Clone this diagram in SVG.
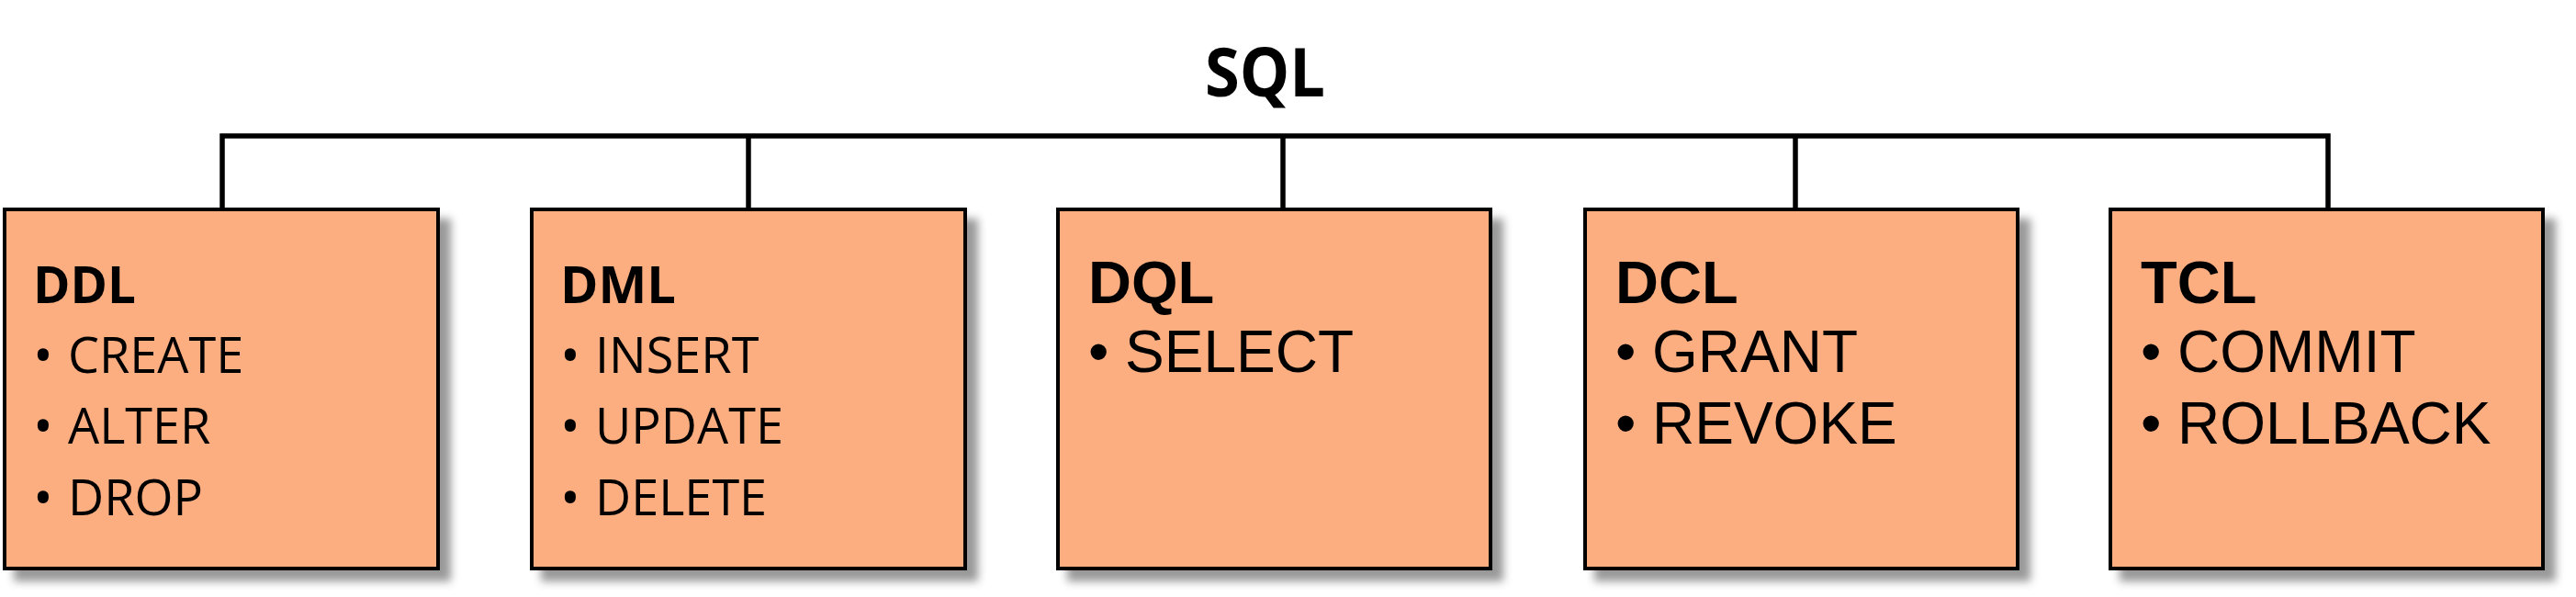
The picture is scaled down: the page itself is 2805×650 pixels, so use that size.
<svg xmlns="http://www.w3.org/2000/svg" width="2805" height="650" viewBox="0 0 2805 650">
  <style>
    .box { fill: #FCAE80; stroke: #000; stroke-width: 4; filter: url(#shadow); }
    .conn { fill: none; stroke: #000; stroke-width: 5.5; stroke-linejoin: miter; }
    .ct { font-family: "Open Sans", "Liberation Sans", sans-serif; font-weight: 700; fill: #000; }
    .ci { font-family: "Open Sans", "Liberation Sans", sans-serif; font-size: 54px; font-weight: 500; fill: #000; }
    .cb { font-size: 58px; }
    .at { font-family: "Liberation Sans", Arial, sans-serif; font-weight: 700; font-size: 65px; fill: #000; }
    .ai { font-family: "Liberation Sans", Arial, sans-serif; font-size: 64px; fill: #000; }
  </style>
  <defs>
    <filter id="shadow" x="-10%" y="-10%" width="130%" height="130%">
      <feDropShadow dx="12" dy="12" stdDeviation="5" flood-color="#000" flood-opacity="0.4"/>
    </filter>
  </defs>
  <rect width="2805" height="650" fill="#fff"/>

  <g id="root">
    <text class="ct" x="1312" y="104.5" font-size="73" textLength="131" lengthAdjust="spacingAndGlyphs">SQL</text>
  </g>

  <g id="connectors">
    <path class="conn" d="M242 228 V148 H2535 V228"/>
    <path class="conn" d="M815 148 V228"/>
    <path class="conn" d="M1397 148 V228"/>
    <path class="conn" d="M1955 148 V228"/>
  </g>

  <g id="ddl">
    <rect class="box" x="5" y="228" width="472" height="391"/>
    <text class="ct" x="36" y="330" font-size="56" textLength="112" lengthAdjust="spacingAndGlyphs">DDL</text>
    <text class="ci" y="406"><tspan class="cb" x="36" y="408">•</tspan><tspan x="74" y="406">CREATE</tspan></text>
    <text class="ci" y="483"><tspan class="cb" x="36" y="485">•</tspan><tspan x="74" y="483">ALTER</tspan></text>
    <text class="ci" y="561"><tspan class="cb" x="36" y="563">•</tspan><tspan x="74" y="561">DROP</tspan></text>
  </g>

  <g id="dml">
    <rect class="box" x="579" y="228" width="472" height="391"/>
    <text class="ct" x="610" y="330" font-size="56" textLength="126" lengthAdjust="spacingAndGlyphs">DML</text>
    <text class="ci" y="406"><tspan class="cb" x="610" y="408">•</tspan><tspan x="648" y="406">INSERT</tspan></text>
    <text class="ci" y="483"><tspan class="cb" x="610" y="485">•</tspan><tspan x="648" y="483">UPDATE</tspan></text>
    <text class="ci" y="561"><tspan class="cb" x="610" y="563">•</tspan><tspan x="648" y="561">DELETE</tspan></text>
  </g>

  <g id="dql">
    <rect class="box" x="1152" y="228" width="471" height="391"/>
    <text class="at" x="1185" y="330">DQL</text>
    <text class="ai" y="405"><tspan x="1185">•</tspan><tspan x="1225">SELECT</tspan></text>
  </g>

  <g id="dcl">
    <rect class="box" x="1726" y="228" width="471" height="391"/>
    <text class="at" x="1759" y="330">DCL</text>
    <text class="ai" y="405"><tspan x="1759">•</tspan><tspan x="1799">GRANT</tspan></text>
    <text class="ai" y="483"><tspan x="1759">•</tspan><tspan x="1799">REVOKE</tspan></text>
  </g>

  <g id="tcl">
    <rect class="box" x="2298" y="228" width="471" height="391"/>
    <text class="at" x="2331" y="330">TCL</text>
    <text class="ai" y="405"><tspan x="2331">•</tspan><tspan x="2371">COMMIT</tspan></text>
    <text class="ai" y="483"><tspan x="2331">•</tspan><tspan x="2371">ROLLBACK</tspan></text>
  </g>
</svg>
